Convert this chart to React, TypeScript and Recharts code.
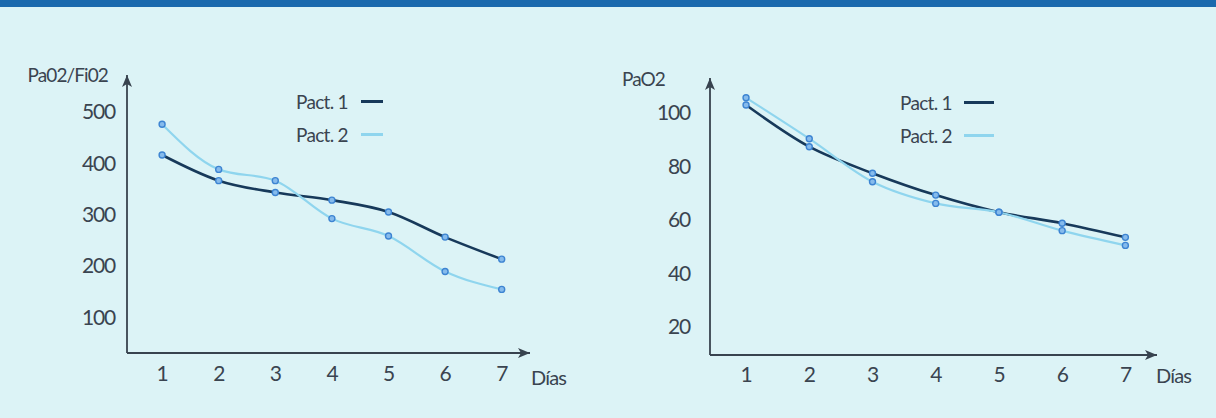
import React from "react";
import { LineChart, Line, XAxis, YAxis, Legend } from "recharts";

const days = [1, 2, 3, 4, 5, 6, 7];
const ratioPact1 = [416, 366, 343, 328, 305, 256, 213];
const ratioPact2 = [476, 388, 366, 292, 258, 189, 154];
const pao2Pact1 = [103, 87.4, 77.5, 69.3, 62.9, 58.8, 53.5];
const pao2Pact2 = [105.7, 90.4, 74.3, 66.2, 62.9, 56, 50.5];
const ratioTicks = [100, 200, 300, 400, 500];
const pao2Ticks = [20, 40, 60, 80, 100];
const seriesNames = ["Pact. 1", "Pact. 2"];

const ratioData = days.map((d, i) => ({ day: d, p1: ratioPact1[i], p2: ratioPact2[i] }));
const pao2Data = days.map((d, i) => ({ day: d, p1: pao2Pact1[i], p2: pao2Pact2[i] }));

const BG = "#dcf3f6";
const BAND = "#1a69ad";
const DARK = "#17395a";
const LIGHT = "#8fd5ee";
const AXIS = "#38434f";
const TEXT = "#3a4450";
const FONT = "Lato, 'Open Sans', sans-serif";

const Dot = (props: any) => {
  const { cx, cy } = props;
  if (cx == null || cy == null) return null;
  return <circle cx={cx} cy={cy} r={3} fill="#86bbec" stroke="#3d84d2" strokeWidth={1.4} />;
};

const makeLegend = (swatch: number, textW: number) => (props: any) => {
  const payload = props.payload || [];
  return (
    <div style={{ fontFamily: FONT, color: TEXT }}>
      {payload.map((e: any, i: number) => (
        <div key={i} style={{ display: "flex", alignItems: "center", height: 33 }}>
          <span style={{ fontSize: 19, letterSpacing: -0.7, width: textW }}>{e.value}</span>
          <span
            style={{
              display: "inline-block",
              width: swatch,
              height: i === 0 ? 3 : 2.5,
              background: e.color,
            }}
          />
        </div>
      ))}
    </div>
  );
};

const yTitle = (text: string, dx: number, dy: number) => (props: any) => {
  const vb = props.viewBox || {};
  return (
    <text
      x={vb.x + vb.width - dx}
      y={vb.y + dy}
      textAnchor="end"
      fill={TEXT}
      fontSize={19}
      fontFamily={FONT}
      letterSpacing={-0.9}
    >
      {text}
    </text>
  );
};

const axisLineY = { stroke: AXIS, strokeWidth: 1.8, markerStart: "url(#arrowHead)" };
const axisLineX = { stroke: AXIS, strokeWidth: 1.8, markerEnd: "url(#arrowHead)" };
const tickStyle = { fill: TEXT, fontSize: 21, fontFamily: FONT, letterSpacing: -1.2 };

export default function App() {
  return (
    <div
      style={{
        position: "absolute",
        left: 0,
        top: 0,
        width: 1216,
        height: 418,
        background: BG,
        overflow: "hidden",
        fontFamily: FONT,
      }}
    >
      <svg width={0} height={0} style={{ position: "absolute" }}>
        <defs>
          <marker
            id="arrowHead"
            markerUnits="userSpaceOnUse"
            markerWidth={14}
            markerHeight={12}
            refX={12}
            refY={5}
            orient="auto-start-reverse"
          >
            <path d="M0,0 L12,5 L0,10 L3,5 Z" fill={AXIS} />
          </marker>
        </defs>
      </svg>
      <div style={{ position: "absolute", left: 0, top: 0, width: 1216, height: 7, background: BAND }} />

      <div style={{ position: "absolute", left: 0, top: 0 }}>
        <LineChart width={600} height={418} data={ratioData} margin={{ top: 75, right: 70, bottom: 35, left: 0 }}>
          <XAxis
            dataKey="day"
            type="number"
            domain={[0.38, 7.5]}
            ticks={days}
            interval={0}
            height={30}
            tickLine={false}
            tickSize={0}
            tickMargin={13}
            axisLine={axisLineX}
            tick={tickStyle}
            label={{ value: "Días", position: "right", offset: 1, dy: 10, fill: TEXT, fontSize: 20, fontFamily: FONT, letterSpacing: -0.8 }}
          />
          <YAxis
            type="number"
            domain={[30, 572]}
            ticks={ratioTicks}
            interval={0}
            width={127}
            tickLine={false}
            tickSize={0}
            tickMargin={12}
            axisLine={axisLineY}
            tick={tickStyle}
            label={{ content: yTitle("Pa02/Fi02", 19, 7) }}
          />
          <Legend
            layout="horizontal"
            verticalAlign="middle"
            align="center"
            content={makeLegend(22, 65)}
            wrapperStyle={{ position: "absolute", left: 296, top: 85, width: 120 }}
          />
          <Line
            name={seriesNames[0]}
            dataKey="p1"
            type="monotone"
            stroke={DARK}
            strokeWidth={2.6}
            dot={<Dot />}
            isAnimationActive={false}
          />
          <Line
            name={seriesNames[1]}
            dataKey="p2"
            type="monotone"
            stroke={LIGHT}
            strokeWidth={2.2}
            dot={<Dot />}
            isAnimationActive={false}
          />
        </LineChart>
      </div>

      <div style={{ position: "absolute", left: 600, top: 0 }}>
        <LineChart width={616} height={418} data={pao2Data} margin={{ top: 78, right: 59, bottom: 33, left: 0 }}>
          <XAxis
            dataKey="day"
            type="number"
            domain={[0.43, 7.5]}
            ticks={days}
            interval={0}
            height={30}
            tickLine={false}
            tickSize={0}
            tickMargin={12}
            axisLine={axisLineX}
            tick={tickStyle}
            label={{ value: "Días", position: "right", offset: -1, dy: 6, fill: TEXT, fontSize: 20, fontFamily: FONT, letterSpacing: -0.8 }}
          />
          <YAxis
            type="number"
            domain={[9.5, 113.1]}
            ticks={pao2Ticks}
            interval={0}
            width={110}
            tickLine={false}
            tickSize={0}
            tickMargin={20}
            axisLine={axisLineY}
            tick={tickStyle}
            label={{ content: yTitle("PaO2", 45, 8) }}
          />
          <Legend
            layout="horizontal"
            verticalAlign="middle"
            align="center"
            content={makeLegend(30, 64)}
            wrapperStyle={{ position: "absolute", left: 300, top: 86, width: 130 }}
          />
          <Line
            name={seriesNames[0]}
            dataKey="p1"
            type="monotone"
            stroke={DARK}
            strokeWidth={2.6}
            dot={<Dot />}
            isAnimationActive={false}
          />
          <Line
            name={seriesNames[1]}
            dataKey="p2"
            type="monotone"
            stroke={LIGHT}
            strokeWidth={2.2}
            dot={<Dot />}
            isAnimationActive={false}
          />
        </LineChart>
      </div>
    </div>
  );
}
